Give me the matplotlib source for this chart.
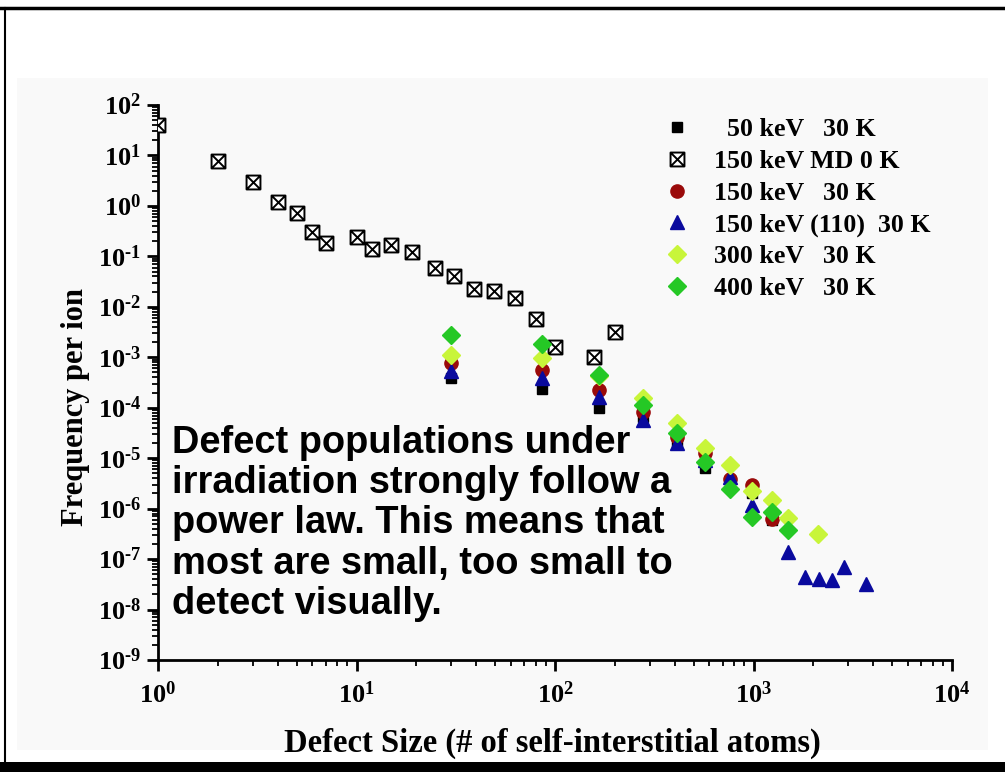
import matplotlib
matplotlib.use("Agg")
import matplotlib.pyplot as plt
from matplotlib.path import Path
from matplotlib.patches import Rectangle
from matplotlib.lines import Line2D
from matplotlib.ticker import LogLocator, FuncFormatter, NullFormatter
import numpy as np

# ---------------- data ----------------
md_x = [1, 2, 3, 4, 5, 6, 7, 10, 12, 15, 19, 25, 31, 39, 49, 63, 80, 100, 158, 200]
md_y = [40, 7.8, 3.0, 1.2, 0.72, 0.31, 0.18, 0.24, 0.14, 0.17, 0.12, 0.059, 0.040,
        0.023, 0.021, 0.015, 0.0058, 0.0016, 0.0010, 0.0032]

k50_x = [30, 86, 167, 277, 412, 570, 762, 980, 1240]
k50_y = [3.9e-4, 2.4e-4, 1.0e-4, 6.5e-5, 1.9e-5, 6.4e-6, 3.5e-6, 2.0e-6, 6.0e-7]

k150_x = [30, 86, 167, 277, 412, 570, 762, 980, 1240]
k150_y = [7.8e-4, 5.6e-4, 2.2e-4, 8.3e-5, 2.6e-5, 1.25e-5, 3.8e-6, 3.0e-6, 6.2e-7]

k150_110_x = [30, 86, 167, 277, 412, 570, 762, 980, 1490, 1820, 2140, 2500, 2860, 3690]
k150_110_y = [5.4e-4, 3.9e-4, 1.6e-4, 5.8e-5, 2.0e-5, 9.0e-6, 4.2e-6, 1.2e-6, 1.4e-7,
              4.5e-8, 4.0e-8, 3.8e-8, 7.0e-8, 3.2e-8]

k300_x = [30, 86, 167, 277, 412, 570, 762, 980, 1240, 1490, 2115]
k300_y = [1.1e-3, 9.8e-4, 4.2e-4, 1.58e-4, 5.0e-5, 1.6e-5, 7.2e-6, 2.2e-6, 1.5e-6, 6.6e-7, 3.1e-7]

k400_x = [30, 86, 167, 277, 412, 570, 762, 980, 1240, 1490]
k400_y = [2.8e-3, 1.8e-3, 4.5e-4, 1.15e-4, 3.1e-5, 8.4e-6, 2.4e-6, 6.7e-7, 8.6e-7, 3.8e-7]

labels = ["  50 keV   30 K", "150 keV MD 0 K", "150 keV   30 K",
          "150 keV (110)  30 K", "300 keV   30 K", "400 keV   30 K"]

x_label = "Defect Size (# of self-interstitial atoms)"
y_label = "Frequency per ion"
note = ("Defect populations under\nirradiation strongly follow a\n"
        "power law. This means that\nmost are small, too small to\ndetect visually.")

# ---------------- styling ----------------
plt.rcParams['mathtext.fontset'] = 'custom'
plt.rcParams['mathtext.rm'] = 'Liberation Serif:bold'
plt.rcParams['mathtext.it'] = 'Liberation Serif:bold'
plt.rcParams['mathtext.bf'] = 'Liberation Serif:bold'
serif = 'Liberation Serif'

W, H = 1005, 772
fig = plt.figure(figsize=(W / 100, H / 100), dpi=100)
fig.patch.set_facecolor('white')

# faint panel background
fig.patches.append(Rectangle((17 / W, 1 - 750 / H), (988 - 17) / W, (750 - 78) / H,
                             transform=fig.transFigure, facecolor='#f9f9f9',
                             edgecolor='none', zorder=-10))
# frame lines
fig.lines.append(Line2D([0, 1], [1 - 8 / H, 1 - 8 / H], transform=fig.transFigure,
                        color='black', lw=2.5, zorder=-5))
fig.lines.append(Line2D([5 / W, 5 / W], [1 - 8 / H, 1 - 762 / H], transform=fig.transFigure,
                        color='black', lw=1.5, zorder=-5))
fig.patches.append(Rectangle((0, 0), 1, 10 / H, transform=fig.transFigure,
                             facecolor='black', edgecolor='none', zorder=-5))

ax = fig.add_axes([158 / W, 1 - 660 / H, (952 - 158) / W, (660 - 105) / H])
ax.set_zorder(1)
ax.set_facecolor('none')
ax.set_xscale('log')
ax.set_yscale('log')
ax.set_xlim(1, 1e4)
ax.set_ylim(1e-9, 1e2)

# crossed-square marker
verts = [(-1, -1), (1, -1), (1, 1), (-1, 1), (-1, -1),
         (-1, -1), (1, 1), (-1, 1), (1, -1)]
codes = [Path.MOVETO, Path.LINETO, Path.LINETO, Path.LINETO, Path.CLOSEPOLY,
         Path.MOVETO, Path.LINETO, Path.MOVETO, Path.LINETO]
xsq = Path(verts, codes)

h_black, = ax.plot(k50_x, k50_y, ls='none', marker='s', ms=7.5, color='black', zorder=3)
h_md, = ax.plot(md_x, md_y, ls='none', marker=xsq, ms=10, mfc='white', mec='black',
                mew=1.4, zorder=3)
h_red, = ax.plot(k150_x, k150_y, ls='none', marker='o', ms=9.5, color='#9a0a0a', zorder=4)
h_blue, = ax.plot(k150_110_x, k150_110_y, ls='none', marker='^', ms=10, color='#0a0a9e', zorder=5)
h_yel, = ax.plot(k300_x, k300_y, ls='none', marker='D', ms=9, color='#c8f53a', zorder=6)
h_grn, = ax.plot(k400_x, k400_y, ls='none', marker='D', ms=9, color='#25c825', zorder=7)

# spines / ticks
for s in ['top', 'right']:
    ax.spines[s].set_visible(False)
for s in ['left', 'bottom']:
    ax.spines[s].set_linewidth(2)

ax.xaxis.set_major_locator(LogLocator(base=10, numticks=10))
ax.yaxis.set_major_locator(LogLocator(base=10, numticks=20))
ax.xaxis.set_minor_locator(LogLocator(base=10, subs=np.arange(2, 10), numticks=20))
ax.yaxis.set_minor_locator(LogLocator(base=10, subs=np.arange(2, 10), numticks=30))
ax.xaxis.set_minor_formatter(NullFormatter())
ax.yaxis.set_minor_formatter(NullFormatter())

def fmt(v, pos):
    e = int(round(np.log10(v)))
    return r'$\mathrm{10^{\text{%d}}}$' % e

ax.xaxis.set_major_formatter(FuncFormatter(fmt))
ax.yaxis.set_major_formatter(FuncFormatter(fmt))
ax.tick_params(which='major', direction='out', length=8, width=2, labelsize=19, pad=8)
ax.tick_params(which='minor', direction='out', length=4, width=1.3)
ax.tick_params(axis='y', which='major', pad=4)

ax.set_xlabel(x_label, fontfamily=serif, fontweight='bold', fontsize=23.5)
ax.set_ylabel(y_label, fontfamily=serif, fontweight='bold', fontsize=22)
ax.xaxis.label.set_va('center')
ax.yaxis.label.set_va('center')
ax.xaxis.set_label_coords((552 - 158) / 794, (660 - 743) / 555)
ax.yaxis.set_label_coords((76 - 158) / 794, (660 - 407) / 555)

leg = ax.legend([h_black, h_md, h_red, h_blue, h_yel, h_grn], labels,
                loc='upper left', bbox_to_anchor=(651 / W, 1 - 108 / H),
                bbox_transform=fig.transFigure, frameon=False,
                prop={'family': serif, 'weight': 'bold', 'size': 18.6},
                handlelength=1.2, handletextpad=0.85, labelspacing=0.33,
                borderaxespad=0, numpoints=1)

fig.text(172 / W, 1 - 425 / H, note, ha='left', va='top', fontsize=27.4,
         fontfamily='Liberation Sans', fontweight='bold', linespacing=1.15, zorder=2)

fig.savefig('out.png', dpi=100, facecolor='white')
